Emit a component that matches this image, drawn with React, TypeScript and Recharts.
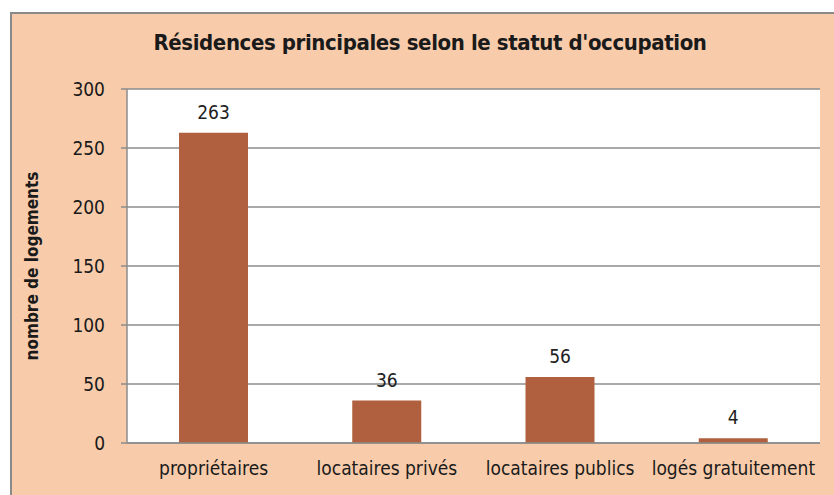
import { BarChart, Bar, XAxis, YAxis, CartesianGrid, LabelList } from 'recharts';

const categories = ['propriétaires', 'locataires privés', 'locataires publics', 'logés gratuitement'];
const logements = [263, 36, 56, 4];
const yTicks = [0, 50, 100, 150, 200, 250, 300];
const boundaryTicks = [0, 1, 2, 3, 4];

const FONT = '"Liberation Sans Narrow", "DejaVu Sans Condensed", "Liberation Sans", sans-serif';

const data = categories.map((name, i) => ({ name, value: logements[i] }));

const App = () => {
  return (
    <div style={{ position: 'absolute', left: 0, top: 0, width: 834, height: 495, background: '#fff', overflow: 'hidden' }}>
      {/* cadre du graphique */}
      <div
        style={{
          position: 'absolute',
          left: 10,
          top: 12,
          width: 830,
          height: 490,
          background: '#F8CCAB',
          border: '2px solid #8a8a8a',
        }}
      />
      <div
        style={{
          position: 'absolute',
          left: 0,
          top: 30,
          width: 834,
          textAlign: 'center',
          fontFamily: FONT,
          fontWeight: 'bold',
          fontSize: 22,
          letterSpacing: -0.4,
          color: '#1a1a1a',
          paddingLeft: 26,
          boxSizing: 'border-box',
        }}
      >
        Résidences principales selon le statut d'occupation
      </div>
      <div style={{ position: 'absolute', left: 0, top: 0 }}>
        <BarChart
          width={834}
          height={495}
          data={data}
          margin={{ top: 89, right: 14, bottom: 0, left: 0 }}
          barSize={69}
        >
          <CartesianGrid vertical={false} fill="#ffffff" stroke="#8c8c8c" strokeWidth={1.5} />
          <XAxis
            dataKey="name"
            height={52}
            axisLine={{ stroke: '#8c8c8c', strokeWidth: 1.5 }}
            tickLine={false}
            tick={{ fill: '#1a1a1a', fontSize: 19, fontFamily: FONT }}
            tickMargin={13}
            interval={0}
          />
          <XAxis
            xAxisId="bords"
            type="number"
            domain={[0, 4]}
            ticks={boundaryTicks}
            height={0}
            axisLine={false}
            tickLine={{ stroke: '#8c8c8c', strokeWidth: 1.5 }}
            tickSize={6}
            tick={false}
            orientation="bottom"
          />
          <YAxis
            width={127}
            domain={[0, 300]}
            ticks={yTicks}
            axisLine={{ stroke: '#8c8c8c', strokeWidth: 1.5 }}
            tickLine={{ stroke: '#8c8c8c', strokeWidth: 1.5 }}
            tickSize={6}
            tickMargin={16}
            tick={{ fill: '#1a1a1a', fontSize: 19, fontFamily: FONT }}
            label={{
              value: 'nombre de logements',
              angle: -90,
              position: 'insideLeft',
              offset: 32,
              style: { fill: '#1a1a1a', fontSize: 17, fontWeight: 'bold', fontFamily: FONT, textAnchor: 'middle' },
            }}
          />
          <Bar dataKey="value" fill="#B0603F" isAnimationActive={false}>
            <LabelList
              dataKey="value"
              position="top"
              offset={14}
              style={{ fill: '#222', fontSize: 19, fontFamily: FONT }}
            />
          </Bar>
        </BarChart>
      </div>
    </div>
  );
};

export default App;
